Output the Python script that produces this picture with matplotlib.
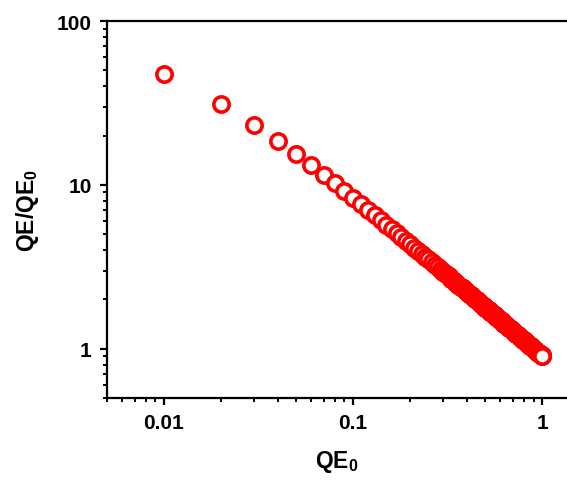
import matplotlib
matplotlib.use('Agg')
import matplotlib.pyplot as plt
from matplotlib.ticker import LogLocator, NullFormatter, FixedLocator, FixedFormatter

plt.rcParams['font.family'] = ['Liberation Sans', 'DejaVu Sans']
plt.rcParams['font.weight'] = 'bold'
plt.rcParams['mathtext.fontset'] = 'custom'
plt.rcParams['mathtext.rm'] = 'Liberation Sans:bold'
plt.rcParams['mathtext.it'] = 'Liberation Sans:bold'
plt.rcParams['mathtext.bf'] = 'Liberation Sans:bold'

# QE0 values, 0.01 ... 1.00
qe0 = [0.01, 0.02, 0.03, 0.04, 0.05, 0.06, 0.07, 0.08, 0.09, 0.10,
       0.11, 0.12, 0.13, 0.14, 0.15, 0.16, 0.17, 0.18, 0.19, 0.20,
       0.21, 0.22, 0.23, 0.24, 0.25, 0.26, 0.27, 0.28, 0.29, 0.30,
       0.31, 0.32, 0.33, 0.34, 0.35, 0.36, 0.37, 0.38, 0.39, 0.40,
       0.41, 0.42, 0.43, 0.44, 0.45, 0.46, 0.47, 0.48, 0.49, 0.50,
       0.51, 0.52, 0.53, 0.54, 0.55, 0.56, 0.57, 0.58, 0.59, 0.60,
       0.61, 0.62, 0.63, 0.64, 0.65, 0.66, 0.67, 0.68, 0.69, 0.70,
       0.71, 0.72, 0.73, 0.74, 0.75, 0.76, 0.77, 0.78, 0.79, 0.80,
       0.81, 0.82, 0.83, 0.84, 0.85, 0.86, 0.87, 0.88, 0.89, 0.90,
       0.91, 0.92, 0.93, 0.94, 0.95, 0.96, 0.97, 0.98, 0.99, 1.00]

# QE/QE0
ratio = [47.69, 31.27, 23.26, 18.52, 15.38, 13.15, 11.49, 10.20, 9.169, 8.328,
         7.629, 7.038, 6.531, 6.093, 5.710, 5.372, 5.072, 4.804, 4.563, 4.344,
         4.146, 3.965, 3.799, 3.647, 3.506, 3.375, 3.254, 3.142, 3.037, 2.939,
         2.846, 2.760, 2.679, 2.602, 2.529, 2.461, 2.396, 2.334, 2.276, 2.220,
         2.167, 2.117, 2.068, 2.022, 1.978, 1.936, 1.896, 1.857, 1.820, 1.784,
         1.750, 1.717, 1.685, 1.654, 1.624, 1.596, 1.568, 1.542, 1.516, 1.491,
         1.467, 1.444, 1.421, 1.399, 1.378, 1.357, 1.337, 1.318, 1.299, 1.281,
         1.263, 1.246, 1.229, 1.212, 1.196, 1.181, 1.166, 1.151, 1.137, 1.122,
         1.109, 1.095, 1.082, 1.070, 1.057, 1.045, 1.033, 1.021, 1.010, 0.999,
         0.988, 0.977, 0.967, 0.957, 0.947, 0.937, 0.928, 0.918, 0.909, 0.900]

xticks = [0.01, 0.1, 1]
xtick_labels = ['0.01', '0.1', '1']
yticks = [1, 10, 100]
ytick_labels = ['1', '10', '100']

fig = plt.figure(figsize=(5.67, 4.85), dpi=100)
ax = fig.add_axes([0.1887, 0.1773, 0.8113, 0.7773])

mk = dict(marker='o', ls='none', ms=11.0, mew=2.6, mec='#ff0000')
# open circles, each later one drawn over the previous
ax.plot(qe0, ratio, mfc='white', zorder=3, **mk)
# where the circles pile up the edges merge into a solid band
ax.plot(qe0[28:-1], ratio[28:-1], mfc='none', zorder=4, **mk)
ax.plot(qe0[-1:], ratio[-1:], mfc='white', zorder=5, **mk)

ax.set_xscale('log')
ax.set_yscale('log')
ax.set_xlim(0.005, 1.35)
ax.set_ylim(0.5, 100)

ax.xaxis.set_major_locator(FixedLocator(xticks))
ax.xaxis.set_major_formatter(FixedFormatter(xtick_labels))
ax.yaxis.set_major_locator(FixedLocator(yticks))
ax.yaxis.set_major_formatter(FixedFormatter(ytick_labels))
ax.xaxis.set_minor_locator(LogLocator(base=10, subs=range(2, 10), numticks=20))
ax.yaxis.set_minor_locator(LogLocator(base=10, subs=range(2, 10), numticks=20))
ax.xaxis.set_minor_formatter(NullFormatter())
ax.yaxis.set_minor_formatter(NullFormatter())

ax.spines['right'].set_visible(False)
for s in ['left', 'bottom', 'top']:
    ax.spines[s].set_linewidth(1.6)

ax.tick_params(which='major', direction='out', length=5, width=1.6,
               labelsize=15, pad=6)
ax.tick_params(which='minor', direction='out', length=3, width=1.4)
ax.tick_params(top=False, right=False, which='both')

ax.set_xlabel(r'QE$_0$', fontsize=16.5, fontweight='bold', labelpad=11)
ax.set_ylabel(r'QE/QE$_0$', fontsize=16.5, fontweight='bold', labelpad=11)

fig.savefig('out.png', dpi=100)
